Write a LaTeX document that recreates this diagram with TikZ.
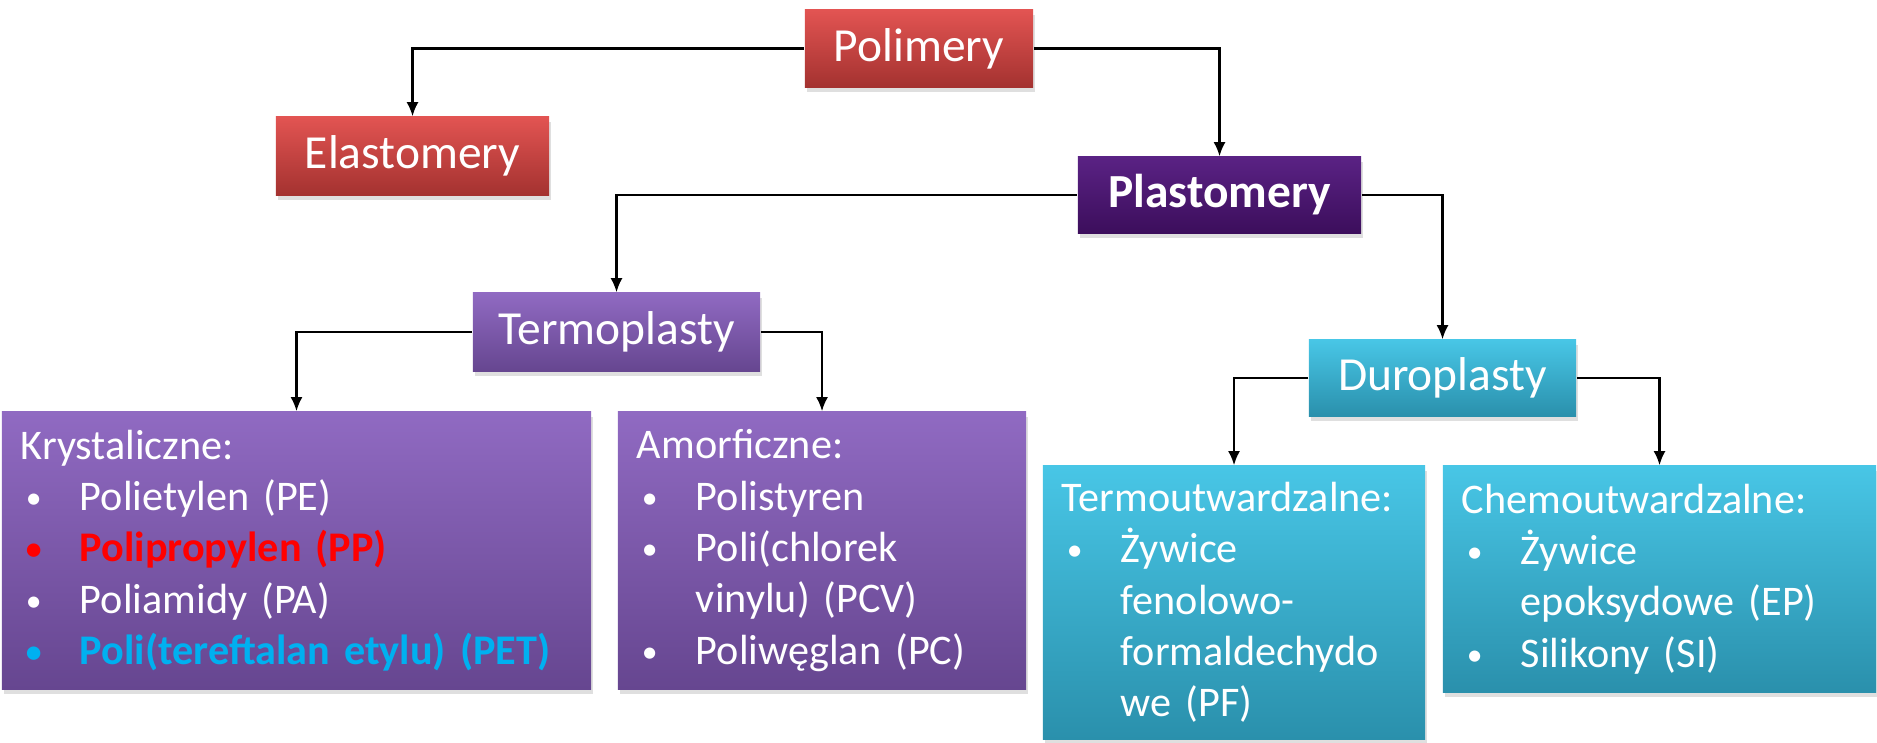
\documentclass[tikz,border=0pt]{standalone}
\usepackage{fontspec}
\setmainfont{Carlito}
\usetikzlibrary{arrows.meta,shadows}

\definecolor{redtop}{RGB}{226,84,82}
\definecolor{redbot}{RGB}{164,50,48}
\definecolor{plastop}{RGB}{90,34,132}
\definecolor{plasbot}{RGB}{60,14,92}
\definecolor{violtop}{RGB}{144,106,194}
\definecolor{violbot}{RGB}{102,70,144}
\definecolor{cyantop}{RGB}{72,198,230}
\definecolor{cyanbot}{RGB}{42,144,172}
\definecolor{ppred}{RGB}{255,0,0}
\definecolor{petblue}{RGB}{0,176,240}

\newcommand{\bul}{\hspace*{0.05cm}\makebox[0.54cm][l]{\raisebox{0.6pt}{\fontsize{9}{9}\selectfont\textbullet}}}
\newcommand{\cont}{\hspace*{0.59cm}}

\begin{document}
\begin{tikzpicture}[x=0.01cm, y=-0.01cm]
    % Styles
    \tikzstyle{box} = [rectangle, text=white, inner sep=0pt, font=\fontsize{13.5}{16}\selectfont, drop shadow={shadow xshift=0.02cm, shadow yshift=-0.05cm, opacity=0.25}]
    \tikzstyle{redbox} = [box, top color=redtop, bottom color=redbot]
    \tikzstyle{plasbox} = [box, top color=plastop, bottom color=plasbot, font=\fontsize{13.5}{16}\selectfont\bfseries]
    \tikzstyle{violbox} = [box, top color=violtop, bottom color=violbot]
    \tikzstyle{cyanbox} = [box, top color=cyantop, bottom color=cyanbot]
    \tikzstyle{list} = [align=left, inner xsep=0.19cm, font=\fontsize{12}{14.6}\selectfont]
    \tikzstyle{arrow} = [-{Latex[length=4pt,width=3.4pt]}, line width=0.6pt]

    \useasboundingbox (0,0) rectangle (1877,742);

    % Nodes - top of the tree
    \node[redbox, minimum width=2.28cm, minimum height=0.77cm] (pol) at (919,48.5) {Polimery};
    \node[redbox, minimum width=2.73cm, minimum height=0.78cm] (ela) at (412.5,156) {Elastomery};
    \node[plasbox, minimum width=2.83cm, minimum height=0.76cm] (pla) at (1219.5,195) {Plastomery};
    \node[violbox, minimum width=2.87cm, minimum height=0.78cm] (ter) at (616.5,332) {Termoplasty};
    \node[cyanbox, minimum width=2.67cm, minimum height=0.76cm] (dur) at (1442.5,378) {Duroplasty};

    % Nodes - lists
    \node[violbox, list, text width=5.51cm, minimum height=2.77cm] (kry) at (296.5,550.5) {Krystaliczne:\\
        \bul Polietylen (PE)\\
        \textcolor{ppred}{\bfseries\bul Polipropylen (PP)}\\
        \bul Poliamidy (PA)\\
        \textcolor{petblue}{\bfseries\bul Poli(tereftalan etylu) (PET)}};
    \node[violbox, list, text width=3.70cm, minimum height=2.77cm] (amo) at (822,550.5) {Amorficzne:\\
        \bul Polistyren\\
        \bul Poli(chlorek\\
        \cont vinylu) (PCV)\\
        \bul Poliwęglan (PC)};
    \node[cyanbox, list, text width=3.44cm, minimum height=2.73cm] (tew) at (1234,602.5) {Termoutwardzalne:\\
        \bul Żywice\\
        \cont fenolowo-\\
        \cont formaldechydo\\
        \cont we (PF)};
    \node[cyanbox, list, text width=3.95cm, minimum height=2.26cm] (chw) at (1659.5,579) {Chemoutwardzalne:\\
        \bul Żywice\\
        \cont epoksydowe (EP)\\
        \bul Silikony (SI)};

    % Arrows
    \draw[arrow] (pol.west) -| (ela.north);
    \draw[arrow] (pol.east) -| (pla.north);
    \draw[arrow] (pla.west) -| (ter.north);
    \draw[arrow] (pla.east) -| (dur.north);
    \draw[arrow] (ter.west) -| (kry.north);
    \draw[arrow] (ter.east) -| (amo.north);
    \draw[arrow] (dur.west) -| (tew.north);
    \draw[arrow] (dur.east) -| (chw.north);
\end{tikzpicture}
\end{document}
